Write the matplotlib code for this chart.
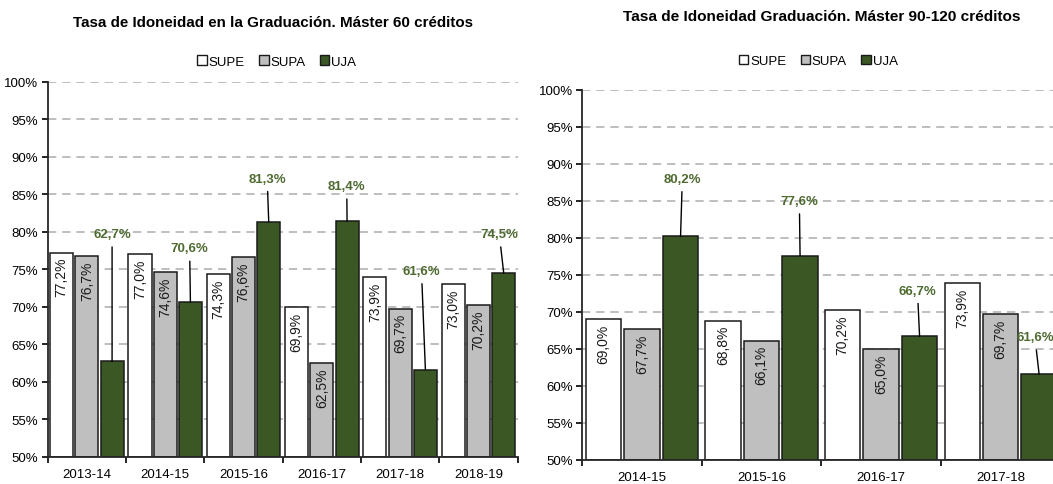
import numpy as np
import matplotlib
matplotlib.use('Agg')
import matplotlib.pyplot as plt
from matplotlib import font_manager
from matplotlib.patches import Patch

# datos: tasa de idoneidad (%)
years_60 = ['2013-14', '2014-15', '2015-16', '2016-17', '2017-18', '2018-19']
supe_60 = [77.2, 77.0, 74.3, 69.9, 73.9, 73.0]
supa_60 = [76.7, 74.6, 76.6, 62.5, 69.7, 70.2]
uja_60 = [62.7, 70.6, 81.3, 81.4, 61.6, 74.5]

years_90 = ['2014-15', '2015-16', '2016-17', '2017-18']
supe_90 = [69.0, 68.8, 70.2, 73.9]
supa_90 = [67.7, 66.1, 65.0, 69.7]
uja_90 = [80.2, 77.6, 66.7, 61.6]

# posicion de las etiquetas UJA (altura en %, desplazamiento x)
lab_y_60 = [79.7, 77.8, 87.1, 86.1, 74.8, 79.7]
lab_dx_60 = [0.0, -0.01, -0.02, -0.004, -0.05, -0.057]
lab_y_90 = [88.0, 85.0, 72.9, 66.6]
lab_dx_90 = [0.015, -0.006, -0.018, -0.035]

names = [f.name for f in font_manager.fontManager.ttflist]
narrow = 'Liberation Sans Narrow' if 'Liberation Sans Narrow' in names else 'Liberation Sans'
plt.rcParams['font.family'] = [narrow, 'DejaVu Sans']

c_supe = 'white'
c_supa = '#bfbfbf'
c_uja = '#3a5724'
c_lab = '#4f6b31'
grid_c = '#b3b3b3'
W = 0.295
D = 0.322


def fmt(v):
    return ('%.1f%%' % v).replace('.', ',')


def draw(ax, years, supe, supa, uja, lab_y, lab_dx):
    x = np.arange(len(years))
    for vals, off, col in [(supe, -D, c_supe), (supa, 0, c_supa), (uja, D, c_uja)]:
        ax.bar(x + off, np.array(vals) - 50, W, bottom=50, color=col,
               edgecolor='#1a1a1a', linewidth=1.1, zorder=3)
    for i in range(len(years)):
        for vals, off in [(supe, -D), (supa, 0)]:
            ax.annotate(fmt(vals[i]), (x[i] + off, vals[i]), xytext=(0, -3),
                        textcoords='offset points', rotation=90, ha='center',
                        va='top', fontsize=10, color='#1a1a1a', zorder=4)
        ax.annotate(fmt(uja[i]), xy=(x[i] + D, uja[i]),
                    xytext=(x[i] + D + lab_dx[i], lab_y[i]),
                    ha='center', va='center', fontsize=9.5, fontweight='bold',
                    color=c_lab, zorder=5,
                    arrowprops=dict(arrowstyle='-', color='black', lw=1.0,
                                    shrinkA=3, shrinkB=0))
    ax.set_ylim(50, 100)
    ax.set_xlim(-0.5, len(years) - 0.5)
    ax.set_yticks(np.arange(50, 101, 5))
    ax.set_yticklabels(['%d%%' % t for t in range(50, 101, 5)])
    ax.set_xticks(x)
    ax.set_xticklabels(years)
    ax.set_xticks(np.arange(-0.5, len(years)), minor=True)
    ax.tick_params(axis='x', which='major', length=0, pad=8, labelsize=9.5)
    ax.tick_params(axis='x', which='minor', length=4, width=1.2, direction='out')
    ax.tick_params(axis='y', length=4, width=1.2, labelsize=9.5, pad=3)
    for t in np.arange(55, 101, 5):
        ax.axhline(t, color=grid_c, lw=1.2, ls=(0, (5, 3.5)), zorder=1)
    for s in ['top', 'right']:
        ax.spines[s].set_visible(False)
    for s in ['left', 'bottom']:
        ax.spines[s].set_color('#262626')
        ax.spines[s].set_linewidth(1.3)
        ax.spines[s].set_zorder(6)


fig = plt.figure(figsize=(10.53, 4.85), dpi=100)
ax1 = fig.add_axes([0.0453, 0.0563, 0.4463, 0.773])
ax2 = fig.add_axes([0.553, 0.0495, 0.454, 0.763])

draw(ax1, years_60, supe_60, supa_60, uja_60, lab_y_60, lab_dx_60)
draw(ax2, years_90, supe_90, supa_90, uja_90, lab_y_90, lab_dx_90)

fig.text(0.259, 0.953, 'Tasa de Idoneidad en la Graduación. Máster 60 créditos',
         ha='center', va='center', fontsize=10.9, fontweight='bold',
         family='Liberation Sans')
fig.text(0.780, 0.965, 'Tasa de Idoneidad Graduación. Máster 90-120 créditos',
         ha='center', va='center', fontsize=11.1, fontweight='bold',
         family='Liberation Sans')

handles = [Patch(facecolor=c, edgecolor='#1a1a1a', linewidth=1.0)
           for c in [c_supe, c_supa, c_uja]]
for cx, cy in [(0.263, 0.871), (0.777, 0.872)]:
    fig.legend(handles, ['SUPE', 'SUPA', 'UJA'], loc='center',
               bbox_to_anchor=(cx, cy), ncol=3, frameon=False, fontsize=9.5,
               handlelength=0.7, handleheight=0.7, handletextpad=0.15,
               columnspacing=1.1)

fig.savefig('out.png', dpi=100)
